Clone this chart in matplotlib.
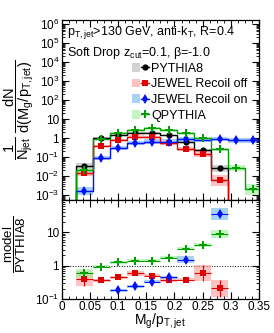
import numpy as np
import matplotlib
matplotlib.use('Agg')
import matplotlib.pyplot as plt
from matplotlib.patches import Rectangle, Patch
from matplotlib.lines import Line2D
from matplotlib.legend_handler import HandlerTuple
from matplotlib.ticker import (LogLocator, FuncFormatter, MultipleLocator, NullFormatter,
                               FixedLocator)

plt.rcParams['font.family'] = ['Liberation Sans', 'DejaVu Sans']
plt.rcParams['mathtext.fontset'] = 'custom'
plt.rcParams['mathtext.rm'] = 'Liberation Sans'
plt.rcParams['mathtext.it'] = 'Liberation Sans'
plt.rcParams['mathtext.bf'] = 'Liberation Sans:bold'

# bins in Mg/pT,jet
edges = np.round(0.025 + 0.03 * np.arange(12), 3)
nan = np.nan

# distributions (top panel), 0 = empty bin
pythia = [0.033, 1.0, 1.4, 1.8, 1.8, 1.4, 0.6, 0.23, 0.026, 0, 0]
jewel_off = [0.014, 0.38, 0.78, 1.2, 1.1, 0.55, 0.26, 0.14, 0.006, 0, 0]
jewel_on = [0.0016, 0.09, 0.3, 0.55, 0.65, 0.65, 0.9, 0.8, 0.9, 0.75, 0.75]
qpythia = [0.02, 0.9, 1.8, 2.6, 3.3, 2.6, 1.9, 1.0, 0.26, 0.026, 0.002]

# systematic box size (multiplicative factor)
pythia_sys = [1.5, 1.1, 1.1, 1.1, 1.1, 1.1, 1.15, 1.2, 1.5, 1, 1]
jewel_off_sys = [1.3, 1.15, 1.15, 1.15, 1.15, 1.2, 1.25, 1.35, 2.0, 1, 1]
jewel_on_sys = [1.6, 1.3, 1.3, 1.3, 1.3, 1.3, 1.3, 1.3, 1.3, 1.3, 1.3]
qpythia_sys = [1.35, 1.15, 1.15, 1.15, 1.15, 1.15, 1.15, 1.15, 1.2, 1.4, 2.0]

# ratios to PYTHIA8 (bottom panel)
jewel_off_ratio = [0.41, 0.36, 0.45, 0.58, 0.5, 0.37, 0.38, 0.6, 0.21, nan, nan]
jewel_on_ratio = [nan, nan, 0.18, 0.24, 0.33, 0.45, 1.5, nan, 34, nan, nan]
qpythia_ratio = [0.58, 0.93, 1.25, 1.4, 1.4, 1.7, 3.2, 4.2, 8.8, nan, nan]
jewel_off_ratio_sys = [1.7, 1.12, 1.12, 1.15, 1.12, 1.12, 1.12, 1.7, 1.8, 1, 1]
jewel_on_ratio_sys = [1, 1, 1.12, 1.12, 1.12, 1.12, 1.25, 1, 1.5, 1, 1]
qpythia_ratio_sys = [1.4, 1.12, 1.12, 1.12, 1.12, 1.12, 1.12, 1.15, 1.35, 1, 1]
jewel_off_ratio_stat = [1.7, 1.05, 1.05, 1.05, 1.05, 1.05, 1.05, 1.7, 1.8, 1, 1]

top_ticks = [1e-3, 1e-2, 1e-1, 1, 10, 1e2, 1e3, 1e4, 1e5, 1e6]
ratio_ticks = [0.1, 1, 10]

series = [
    ('PYTHIA8', pythia, pythia_sys, None, None, None, 'black', '#b4b4b4', 'o', 4.5),
    ('JEWEL Recoil off', jewel_off, jewel_off_sys, jewel_off_ratio, jewel_off_ratio_sys,
     jewel_off_ratio_stat, '#e00000', '#ff9a9a', 's', 4.5),
    ('JEWEL Recoil on', jewel_on, jewel_on_sys, jewel_on_ratio, jewel_on_ratio_sys,
     None, '#0010ff', '#6fb4f5', 'd', 5),
    ('QPYTHIA', qpythia, qpythia_sys, qpythia_ratio, qpythia_ratio_sys,
     None, '#00a000', '#9ef09e', 'P', 6),
]
# JEWEL Recoil on has no marker drawn in this bin
skip_marker = {'JEWEL Recoil on': [7]}

centers = 0.5 * (edges[:-1] + edges[1:])
hw = 0.5 * (edges[1] - edges[0])

fig = plt.figure(figsize=(2.74, 3.33), dpi=100)
ax = fig.add_axes([0.226, 0.399, 0.719, 0.541])
axr = fig.add_axes([0.226, 0.102, 0.719, 0.297])


def boxes(a, x, y, f, color):
    for xi, yi, fi in zip(x, y, f):
        if np.isfinite(yi) and yi > 0 and fi > 1:
            a.add_patch(Rectangle((xi - hw, yi / fi), 2 * hw, yi * fi - yi / fi,
                                  facecolor=color, edgecolor='none', alpha=0.6, zorder=1))


handles = []
for name, vals, sysf, rat, rsys, rstat, col, light, mk, ms in series:
    vals = np.array(vals, dtype=float)
    nz = np.nonzero(vals > 0)[0]
    boxes(ax, centers, vals, sysf, light)
    ax.stairs(vals[nz], edges[nz[0]:nz[-1] + 2], baseline=1e-6, color=col, lw=1, zorder=2)
    mv = vals.copy()
    mv[mv <= 0] = nan
    for i in skip_marker.get(name, []):
        mv[i] = nan
    ax.errorbar(centers, mv, xerr=hw, fmt=mk, color=col, ms=ms, lw=0.8,
                mew=0, capsize=0, zorder=3)
    if rat is not None:
        rat = np.array(rat, dtype=float)
        boxes(axr, centers, rat, rsys, light)
        if rstat is not None:
            st = np.array(rstat)
            yerr = [rat - rat / st, rat * st - rat]
        else:
            yerr = None
        axr.errorbar(centers, rat, xerr=hw, yerr=yerr, fmt=mk, color=col, ms=ms,
                     lw=0.8, mew=0, capsize=0, zorder=3)
    handles.append((Patch(facecolor=light, alpha=0.6, edgecolor='none'),
                    Line2D([], [], color=col, marker=mk, ms=ms, mew=0, lw=1)))

axr.axhline(1, color='black', ls=':', lw=0.7, zorder=0)


def logfmt(v, _):
    e = int(round(np.log10(v)))
    if e == 0:
        return '1'
    if e == 1:
        return '10'
    return r'$10^{%d}$' % e


for a, yt in ((ax, top_ticks), (axr, ratio_ticks)):
    a.set_xlim(0, 0.35)
    a.set_yscale('log')
    a.xaxis.set_major_locator(MultipleLocator(0.05))
    a.xaxis.set_minor_locator(MultipleLocator(0.0125))
    a.yaxis.set_major_locator(FixedLocator(yt))
    a.yaxis.set_minor_locator(LogLocator(base=10, subs=np.arange(2, 10), numticks=20))
    a.yaxis.set_major_formatter(FuncFormatter(logfmt))
    a.yaxis.set_minor_formatter(NullFormatter())
    a.tick_params(which='both', direction='in', top=True, right=True, labelsize=8.5, pad=2)
    a.tick_params(which='major', length=5, width=0.8)
    a.tick_params(which='minor', length=2.5, width=0.6)
    for s in a.spines.values():
        s.set_linewidth(0.9)

ax.set_ylim(5.5e-4, 1.6e6)
ax.tick_params(labelbottom=False)
axr.set_ylim(0.1, 90)
axr.tick_params(axis='x', pad=1.5)
axr.xaxis.set_major_formatter(FuncFormatter(lambda v, _: f'{v:g}'))

ax.text(0.025, 0.93, r'p$_{\mathrm{T,jet}}$>130 GeV, anti-k$_{\mathrm{T}}$, R=0.4',
        transform=ax.transAxes, fontsize=9, va='center')
ax.text(0.025, 0.815, r'Soft Drop z$_{\mathrm{cut}}$=0.1, β=-1.0',
        transform=ax.transAxes, fontsize=9, va='center')

ax.legend(handles, [s[0] for s in series], handler_map={tuple: HandlerTuple(ndivide=None)},
          loc='upper left', bbox_to_anchor=(0.32, 0.805), frameon=False, fontsize=9,
          handlelength=1.3, handletextpad=0.2, labelspacing=0.3, borderpad=0.1)

fig.text(0.068, 0.67, r'$\dfrac{1}{N_{jet}}\ \dfrac{dN}{d(M_{g}/p_{T,jet})}$',
         rotation=90, ha='center', va='center', fontsize=10.5)
fig.text(0.055, 0.265, r'$\dfrac{model}{PYTHIA8}$', rotation=90, ha='center',
         va='center', fontsize=9.5)
fig.text(0.585, 0.063, r'M$_{g}$/p$_{\mathrm{T,jet}}$', ha='center', va='top', fontsize=10)

fig.savefig('out.png', dpi=100)
